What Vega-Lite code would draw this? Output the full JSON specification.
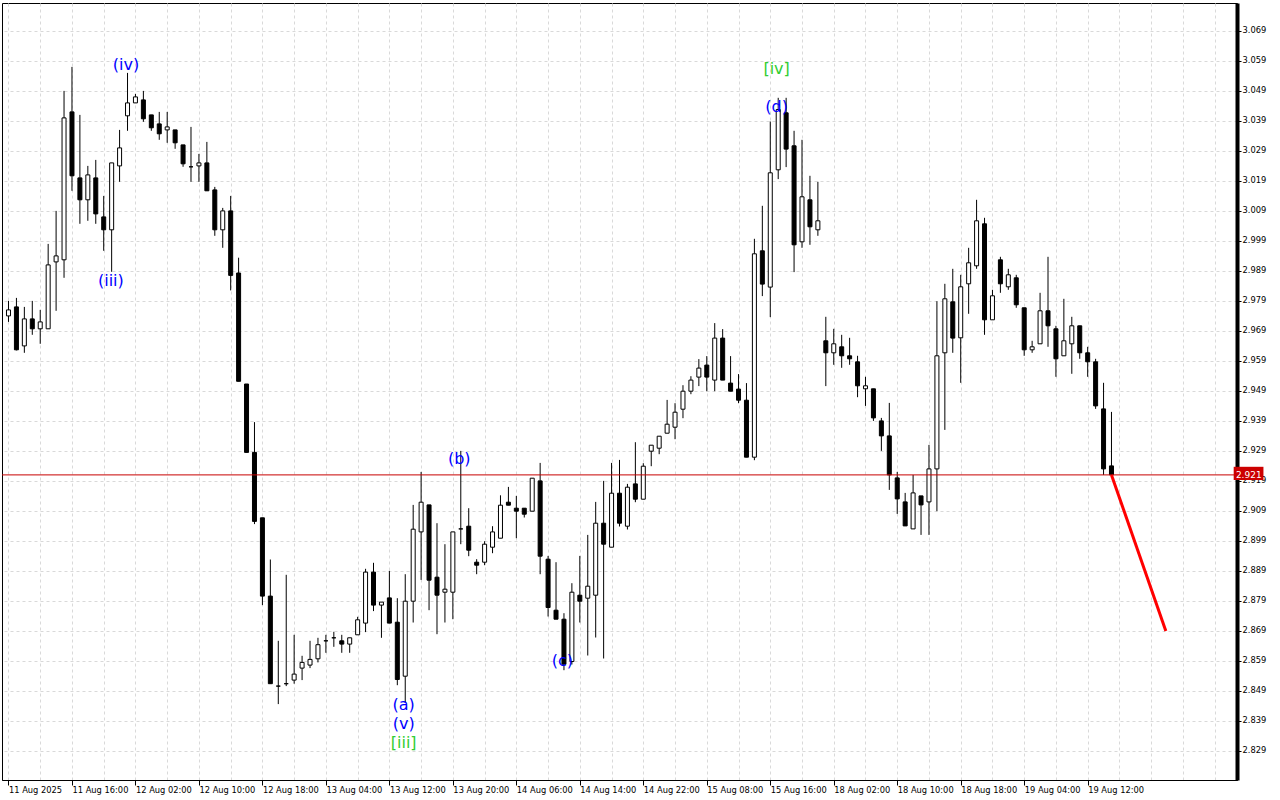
{
"$schema": "https://vega.github.io/schema/vega-lite/v6.json",
"width": 1235, "height": 777,
"autosize": {"type": "none"},
"padding": {"left": 2, "top": 3, "right": 43, "bottom": 20},
"background": "white",
"config": {"view": {"stroke": "black", "strokeWidth": 1}, "axis": {"labelFont": "DejaVu Sans", "labelFontSize": 8.3, "labelColor": "black", "labelOverlap": false}},
"datasets": {
"candles": [
{"i":0,"o":2.974,"h":2.979,"l":2.972,"c":2.976},
{"i":1,"o":2.977,"h":2.980,"l":2.9625,"c":2.9627},
{"i":2,"o":2.964,"h":2.977,"l":2.9617,"c":2.973},
{"i":3,"o":2.973,"h":2.979,"l":2.9677,"c":2.9697},
{"i":4,"o":2.9697,"h":2.976,"l":2.9647,"c":2.972},
{"i":5,"o":2.9697,"h":2.998,"l":2.9697,"c":2.991},
{"i":6,"o":2.992,"h":3.009,"l":2.9757,"c":2.994},
{"i":7,"o":2.9927,"h":3.049,"l":2.9867,"c":3.040},
{"i":8,"o":3.042,"h":3.057,"l":3.0157,"c":3.0207},
{"i":9,"o":3.020,"h":3.041,"l":3.0047,"c":3.0127},
{"i":10,"o":3.0127,"h":3.024,"l":3.0057,"c":3.021},
{"i":11,"o":3.020,"h":3.026,"l":3.0047,"c":3.008},
{"i":12,"o":3.007,"h":3.014,"l":2.9957,"c":3.0027},
{"i":13,"o":3.0027,"h":3.025,"l":2.9887,"c":3.025},
{"i":14,"o":3.024,"h":3.036,"l":3.0187,"c":3.030},
{"i":15,"o":3.0407,"h":3.055,"l":3.0357,"c":3.045},
{"i":16,"o":3.045,"h":3.048,"l":3.045,"c":3.047},
{"i":17,"o":3.046,"h":3.049,"l":3.0387,"c":3.0397},
{"i":18,"o":3.041,"h":3.041,"l":3.0357,"c":3.0367},
{"i":19,"o":3.038,"h":3.042,"l":3.0327,"c":3.0347},
{"i":20,"o":3.036,"h":3.042,"l":3.0317,"c":3.037},
{"i":21,"o":3.036,"h":3.036,"l":3.0297,"c":3.0317},
{"i":22,"o":3.031,"h":3.031,"l":3.0237,"c":3.0247},
{"i":23,"o":3.0237,"h":3.037,"l":3.0187,"c":3.0237},
{"i":24,"o":3.024,"h":3.028,"l":3.0187,"c":3.025},
{"i":25,"o":3.025,"h":3.032,"l":3.0157,"c":3.0157},
{"i":26,"o":3.016,"h":3.017,"l":3.0007,"c":3.0027},
{"i":27,"o":3.0027,"h":3.010,"l":2.9967,"c":3.009},
{"i":28,"o":3.009,"h":3.014,"l":2.9825,"c":2.9875},
{"i":29,"o":2.9883,"h":2.9934,"l":2.9522,"c":2.9522},
{"i":30,"o":2.9513,"h":2.9513,"l":2.9285,"c":2.9285},
{"i":31,"o":2.9285,"h":2.9386,"l":2.9046,"c":2.9055},
{"i":32,"o":2.9067,"h":2.9067,"l":2.8776,"c":2.8806},
{"i":33,"o":2.8806,"h":2.8928,"l":2.8514,"c":2.8514},
{"i":34,"o":2.8506,"h":2.8657,"l":2.8446,"c":2.8506},
{"i":35,"o":2.8514,"h":2.8877,"l":2.8506,"c":2.8514},
{"i":36,"o":2.8526,"h":2.8677,"l":2.8514,"c":2.8546},
{"i":37,"o":2.8566,"h":2.8607,"l":2.8526,"c":2.8585},
{"i":38,"o":2.8576,"h":2.8657,"l":2.8566,"c":2.8595},
{"i":39,"o":2.8597,"h":2.8667,"l":2.8585,"c":2.8644},
{"i":40,"o":2.8657,"h":2.8677,"l":2.8617,"c":2.8657},
{"i":41,"o":2.8667,"h":2.8687,"l":2.8637,"c":2.8667},
{"i":42,"o":2.8657,"h":2.8677,"l":2.8617,"c":2.8646},
{"i":43,"o":2.8646,"h":2.8667,"l":2.8617,"c":2.8667},
{"i":44,"o":2.8677,"h":2.8737,"l":2.8677,"c":2.8727},
{"i":45,"o":2.8716,"h":2.8897,"l":2.8686,"c":2.8886},
{"i":46,"o":2.8886,"h":2.8917,"l":2.8756,"c":2.8776},
{"i":47,"o":2.8776,"h":2.8786,"l":2.8667,"c":2.8786},
{"i":48,"o":2.880,"h":2.889,"l":2.8716,"c":2.8716},
{"i":49,"o":2.8719,"h":2.8799,"l":2.8509,"c":2.8528},
{"i":50,"o":2.8539,"h":2.8879,"l":2.845,"c":2.8789},
{"i":51,"o":2.8789,"h":2.911,"l":2.8718,"c":2.9029},
{"i":52,"o":2.902,"h":2.922,"l":2.886,"c":2.9119},
{"i":53,"o":2.911,"h":2.911,"l":2.8759,"c":2.8859},
{"i":54,"o":2.8869,"h":2.9049,"l":2.8679,"c":2.8809},
{"i":55,"o":2.8819,"h":2.8979,"l":2.8718,"c":2.8829},
{"i":56,"o":2.8819,"h":2.902,"l":2.8729,"c":2.902},
{"i":57,"o":2.903,"h":2.929,"l":2.8979,"c":2.903},
{"i":58,"o":2.9039,"h":2.9099,"l":2.8939,"c":2.8959},
{"i":59,"o":2.8919,"h":2.8929,"l":2.8879,"c":2.8909},
{"i":60,"o":2.8919,"h":2.8989,"l":2.8909,"c":2.8979},
{"i":61,"o":2.8969,"h":2.9039,"l":2.8949,"c":2.902},
{"i":62,"o":2.8999,"h":2.9142,"l":2.8999,"c":2.9109},
{"i":63,"o":2.9119,"h":2.917,"l":2.9109,"c":2.9109},
{"i":64,"o":2.9099,"h":2.914,"l":2.8999,"c":2.9089},
{"i":65,"o":2.9099,"h":2.9099,"l":2.9068,"c":2.9079},
{"i":66,"o":2.9089,"h":2.9199,"l":2.9089,"c":2.9199},
{"i":67,"o":2.919,"h":2.925,"l":2.8879,"c":2.8939},
{"i":68,"o":2.8929,"h":2.894,"l":2.8738,"c":2.8768},
{"i":69,"o":2.8759,"h":2.8919,"l":2.8729,"c":2.8729},
{"i":70,"o":2.8729,"h":2.8749,"l":2.8559,"c":2.8579},
{"i":71,"o":2.8588,"h":2.8849,"l":2.8578,"c":2.8819},
{"i":72,"o":2.8809,"h":2.894,"l":2.8718,"c":2.8789},
{"i":73,"o":2.8799,"h":2.901,"l":2.8608,"c":2.8839},
{"i":74,"o":2.8809,"h":2.912,"l":2.8668,"c":2.9049},
{"i":75,"o":2.9049,"h":2.919,"l":2.8598,"c":2.8979},
{"i":76,"o":2.8969,"h":2.925,"l":2.8969,"c":2.9149},
{"i":77,"o":2.9149,"h":2.926,"l":2.9038,"c":2.9049},
{"i":78,"o":2.9039,"h":2.918,"l":2.9028,"c":2.9169},
{"i":79,"o":2.918,"h":2.9319,"l":2.9119,"c":2.9129},
{"i":80,"o":2.9129,"h":2.9249,"l":2.9129,"c":2.9239},
{"i":81,"o":2.9289,"h":2.9309,"l":2.9239,"c":2.9309},
{"i":82,"o":2.9299,"h":2.9339,"l":2.9279,"c":2.9339},
{"i":83,"o":2.9349,"h":2.946,"l":2.9349,"c":2.9379},
{"i":84,"o":2.9369,"h":2.9449,"l":2.9329,"c":2.9419},
{"i":85,"o":2.9429,"h":2.9509,"l":2.9399,"c":2.9489},
{"i":86,"o":2.9489,"h":2.9539,"l":2.9479,"c":2.9526},
{"i":87,"o":2.9536,"h":2.9596,"l":2.9506,"c":2.9566},
{"i":88,"o":2.9576,"h":2.9606,"l":2.9489,"c":2.9536},
{"i":89,"o":2.9526,"h":2.9716,"l":2.9489,"c":2.9666},
{"i":90,"o":2.9666,"h":2.9696,"l":2.9526,"c":2.9526},
{"i":91,"o":2.9516,"h":2.9606,"l":2.9489,"c":2.9489},
{"i":92,"o":2.9496,"h":2.9546,"l":2.9449,"c":2.9459},
{"i":93,"o":2.9459,"h":2.9516,"l":2.9269,"c":2.9269},
{"i":94,"o":2.9269,"h":2.9997,"l":2.9259,"c":2.9947},
{"i":95,"o":2.9957,"h":3.0107,"l":2.9806,"c":2.9846},
{"i":96,"o":2.9836,"h":3.0388,"l":2.9736,"c":3.0217},
{"i":97,"o":3.0227,"h":3.0467,"l":3.0196,"c":3.0428},
{"i":98,"o":3.0417,"h":3.0467,"l":3.0236,"c":3.0296},
{"i":99,"o":3.0307,"h":3.0357,"l":2.9886,"c":2.9977},
{"i":100,"o":2.9987,"h":3.0327,"l":2.9967,"c":3.0137},
{"i":101,"o":3.0127,"h":3.0207,"l":2.9977,"c":3.0037},
{"i":102,"o":3.0027,"h":3.0187,"l":3.0007,"c":3.0057},
{"i":103,"o":2.9657,"h":2.9737,"l":2.9506,"c":2.9617},
{"i":104,"o":2.9617,"h":2.9697,"l":2.9577,"c":2.9647},
{"i":105,"o":2.9637,"h":2.9677,"l":2.9567,"c":2.9607},
{"i":106,"o":2.9607,"h":2.9667,"l":2.9577,"c":2.9597},
{"i":107,"o":2.9587,"h":2.9607,"l":2.9469,"c":2.9507},
{"i":108,"o":2.9497,"h":2.9537,"l":2.944,"c":2.9507},
{"i":109,"o":2.9497,"h":2.9497,"l":2.939,"c":2.940},
{"i":110,"o":2.939,"h":2.940,"l":2.929,"c":2.934},
{"i":111,"o":2.934,"h":2.945,"l":2.916,"c":2.921},
{"i":112,"o":2.920,"h":2.922,"l":2.908,"c":2.913},
{"i":113,"o":2.912,"h":2.915,"l":2.904,"c":2.904},
{"i":114,"o":2.903,"h":2.921,"l":2.903,"c":2.915},
{"i":115,"o":2.914,"h":2.914,"l":2.901,"c":2.911},
{"i":116,"o":2.912,"h":2.931,"l":2.901,"c":2.923},
{"i":117,"o":2.923,"h":2.9789,"l":2.9089,"c":2.9607},
{"i":118,"o":2.9617,"h":2.9847,"l":2.936,"c":2.9797},
{"i":119,"o":2.9787,"h":2.9897,"l":2.9617,"c":2.9666},
{"i":120,"o":2.9667,"h":2.9877,"l":2.9517,"c":2.9837},
{"i":121,"o":2.9847,"h":2.9967,"l":2.9747,"c":2.9917},
{"i":122,"o":2.9907,"h":3.0127,"l":2.9897,"c":3.0057},
{"i":123,"o":3.0047,"h":3.0067,"l":2.9677,"c":2.9727},
{"i":124,"o":2.9727,"h":2.9827,"l":2.9727,"c":2.9807},
{"i":125,"o":2.9927,"h":2.9937,"l":2.9817,"c":2.9847},
{"i":126,"o":2.9837,"h":2.9897,"l":2.9827,"c":2.9877},
{"i":127,"o":2.9867,"h":2.9877,"l":2.9767,"c":2.9777},
{"i":128,"o":2.9767,"h":2.9767,"l":2.9607,"c":2.9627},
{"i":129,"o":2.9627,"h":2.9657,"l":2.9617,"c":2.9637},
{"i":130,"o":2.9647,"h":2.9817,"l":2.9647,"c":2.9757},
{"i":131,"o":2.9757,"h":2.9937,"l":2.9637,"c":2.9707},
{"i":132,"o":2.9697,"h":2.9707,"l":2.9537,"c":2.9597},
{"i":133,"o":2.9607,"h":2.9797,"l":2.9607,"c":2.9657},
{"i":134,"o":2.9647,"h":2.9737,"l":2.9547,"c":2.9707},
{"i":135,"o":2.9707,"h":2.9707,"l":2.9597,"c":2.9617},
{"i":136,"o":2.9617,"h":2.9637,"l":2.9537,"c":2.9587},
{"i":137,"o":2.9587,"h":2.9597,"l":2.943,"c":2.944},
{"i":138,"o":2.943,"h":2.9517,"l":2.921,"c":2.923},
{"i":139,"o":2.924,"h":2.942,"l":2.921,"c":2.921}
],
"waves": [
{"i":14.8,"v":3.0575,"t":"(iv)","g":"minor"},
{"i":12.9,"v":2.9858,"t":"(iii)","g":"minor"},
{"i":56.8,"v":2.9262,"t":"(b)","g":"minor"},
{"i":49.8,"v":2.8443,"t":"(a)","g":"minor"},
{"i":49.8,"v":2.838,"t":"(v)","g":"minor"},
{"i":49.8,"v":2.8315,"t":"[iii]","g":"major"},
{"i":69.8,"v":2.859,"t":"(c)","g":"minor"},
{"i":96.8,"v":3.0438,"t":"(d)","g":"minor"},
{"i":96.8,"v":3.0563,"t":"[iv]","g":"major"}
],
"forecast": [
{"i":139,"v":2.921},
{"i":145.85,"v":2.869}
],
"price": [{"p":2.921,"label":"2.921"}]
},
"layer": [
{
"data": {"name": "candles"},
"mark": {"type": "rule", "color": "black", "strokeWidth": 1, "clip": true},
"encoding": {
"x": {"field": "i", "type": "quantitative",
"scale": {"domain": [-0.1875, 154.1875], "nice": false, "zero": false},
"axis": {"title": null, "tickCount": 100, "values": [0,4,8,12,16,20,24,28,32,36,40,44,48,52,56,60,64,68,72,76,80,84,88,92,96,100,104,108,112,116,120,124,128,132,136,140,144,148,152],
"labelExpr": "(datum.value % 8 == 0 && datum.value <= 136) ? ['11 Aug 2025','11 Aug 16:00','12 Aug 02:00','12 Aug 10:00','12 Aug 18:00','13 Aug 04:00','13 Aug 12:00','13 Aug 20:00','14 Aug 06:00','14 Aug 14:00','14 Aug 22:00','15 Aug 08:00','15 Aug 16:00','18 Aug 02:00','18 Aug 10:00','18 Aug 18:00','19 Aug 04:00','19 Aug 12:00'][datum.value / 8] : ''",
"labelAlign": "left", "labelBaseline": "top", "labelPadding": 0, "labelDx": 0, "labelOverlap": false, "labelBound": false, "labelFlush": false,
"tickSize": 5, "tickWidth": 1,
"tickColor": {"condition": {"test": "datum.value % 8 == 0 && datum.value <= 136", "value": "black"}, "value": "transparent"},
"domainColor": "black", "domainWidth": 1,
"grid": true, "gridColor": "#d9d9d9", "gridDash": [3, 3], "gridWidth": 1}},
"y": {"field": "l", "type": "quantitative",
"scale": {"domain": [2.8193, 3.0783], "nice": false, "zero": false},
"axis": {"title": null, "orient": "right", "tickCount": 100, "values": [2.829,2.839,2.849,2.859,2.869,2.879,2.889,2.899,2.909,2.919,2.929,2.939,2.949,2.959,2.969,2.979,2.989,2.999,3.009,3.019,3.029,3.039,3.049,3.059,3.069],
"format": ".3f", "labelOverlap": false, "labelBound": false, "labelFlush": false, "labelPadding": 1, "labelBaseline": "middle",
"tickSize": 4, "tickColor": "black", "tickWidth": 1,
"domainColor": "black", "domainWidth": 4,
"grid": true, "gridColor": "#d9d9d9", "gridDash": [3, 3], "gridWidth": 1}},
"y2": {"field": "h"}
}
},
{
"data": {"name": "candles"},
"mark": {"type": "bar", "width": 4, "stroke": "black", "strokeWidth": 1, "clip": true},
"encoding": {
"x": {"field": "i", "type": "quantitative"},
"y": {"field": "o", "type": "quantitative"},
"y2": {"field": "c"},
"fill": {"condition": {"test": "datum.c > datum.o", "value": "white"}, "value": "black"}
}
},
{
"data": {"name": "price"},
"mark": {"type": "rule", "color": "#c80000", "strokeWidth": 1},
"encoding": {"y": {"field": "p", "type": "quantitative"}}
},
{
"data": {"name": "forecast"},
"mark": {"type": "line", "color": "#ff0000", "strokeWidth": 3},
"encoding": {
"x": {"field": "i", "type": "quantitative"},
"y": {"field": "v", "type": "quantitative"}
}
},
{
"data": {"name": "waves"},
"mark": {"type": "text", "font": "DejaVu Sans", "fontSize": 16, "align": "center", "baseline": "middle"},
"encoding": {
"x": {"field": "i", "type": "quantitative"},
"y": {"field": "v", "type": "quantitative"},
"text": {"field": "t"},
"color": {"field": "g", "type": "nominal", "scale": {"domain": ["minor", "major"], "range": ["#0000ff", "#32cd32"]}, "legend": null}
}
},
{
"data": {"name": "price"},
"mark": {"type": "rect", "color": "#cc0000", "clip": false},
"encoding": {
"x": {"datum": 154.4, "type": "quantitative"},
"x2": {"datum": 158.15},
"y": {"datum": 2.9237, "type": "quantitative"},
"y2": {"datum": 2.9193}
}
},
{
"data": {"name": "price"},
"mark": {"type": "text", "color": "white", "font": "DejaVu Sans", "fontSize": 9, "align": "center", "baseline": "middle", "clip": false},
"encoding": {
"x": {"datum": 156.3, "type": "quantitative"},
"y": {"field": "p", "type": "quantitative"},
"text": {"field": "label"}
}
}
]
}
